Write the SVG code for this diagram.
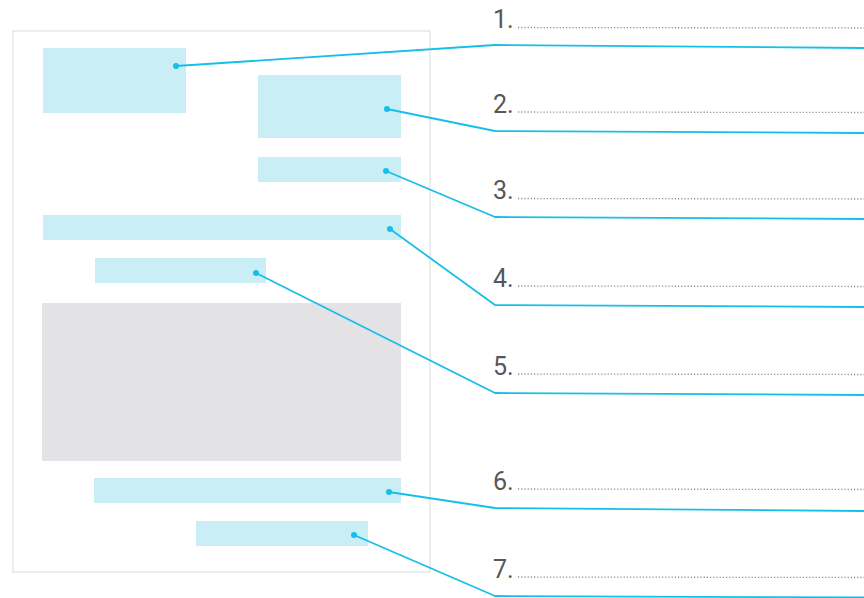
<svg xmlns="http://www.w3.org/2000/svg" width="864" height="598" viewBox="0 0 864 598">
<style>
.page{fill:#ffffff;stroke:#e6e7e9;stroke-width:1.5}
.box{fill:#caeef6}
.img{fill:#e3e3e5}
.lead{fill:none;stroke:#16bfe9;stroke-width:1.8;stroke-linejoin:round}
.dot{fill:#16bfe9}
.num{font-family:Roboto,"DejaVu Sans",sans-serif;font-size:25px;fill:#555759}
.fill{stroke:#8e8e8e;stroke-width:1.3;stroke-dasharray:1.2 2}
</style>
<rect width="864" height="598" fill="#ffffff"/>
<g id="page"><rect class="page" x="13" y="31" width="417" height="541"/></g>
<g id="box1"><rect class="box" x="43" y="48" width="143" height="65"/></g>
<g id="box2"><rect class="box" x="258" y="75" width="143" height="63"/></g>
<g id="box3"><rect class="box" x="258" y="157" width="143" height="25"/></g>
<g id="box4"><rect class="box" x="43" y="215" width="358" height="25"/></g>
<g id="box5"><rect class="box" x="95" y="258" width="171" height="25"/></g>
<g id="image"><rect class="img" x="42" y="303" width="359" height="158"/></g>
<g id="box6"><rect class="box" x="94" y="478" width="307" height="25"/></g>
<g id="box7"><rect class="box" x="196" y="521" width="172" height="25"/></g>
<g id="labels">
<text class="num" x="493" y="28">1.</text>
<text class="num" x="493" y="113">2.</text>
<text class="num" x="493" y="199">3.</text>
<text class="num" x="493" y="287">4.</text>
<text class="num" x="493" y="375">5.</text>
<text class="num" x="493" y="490">6.</text>
<text class="num" x="493" y="578">7.</text>
<line class="fill" x1="518" y1="27.5" x2="864" y2="28"/>
<line class="fill" x1="518" y1="112" x2="864" y2="112.5"/>
<line class="fill" x1="518" y1="198.5" x2="864" y2="199"/>
<line class="fill" x1="518" y1="286" x2="864" y2="286.5"/>
<line class="fill" x1="518" y1="374" x2="864" y2="374.5"/>
<line class="fill" x1="518" y1="489" x2="864" y2="489.5"/>
<line class="fill" x1="518" y1="577" x2="864" y2="577.5"/>
</g>
<g id="connectors">
<polyline class="lead" points="176,66 495,45 864,48"/>
<polyline class="lead" points="387,109 495,131 864,133"/>
<polyline class="lead" points="386,171 495,217 864,219"/>
<polyline class="lead" points="390,229 495,305 864,307"/>
<polyline class="lead" points="256,273 495,393 864,395"/>
<polyline class="lead" points="389,492 495,508 864,511"/>
<polyline class="lead" points="354,535 495,596 864,597.5"/>
<circle class="dot" cx="176" cy="66" r="3"/>
<circle class="dot" cx="387" cy="109" r="3"/>
<circle class="dot" cx="386" cy="171" r="3"/>
<circle class="dot" cx="390" cy="229" r="3"/>
<circle class="dot" cx="256" cy="273" r="3"/>
<circle class="dot" cx="389" cy="492" r="3"/>
<circle class="dot" cx="354" cy="535" r="3"/>
</g>
</svg>
